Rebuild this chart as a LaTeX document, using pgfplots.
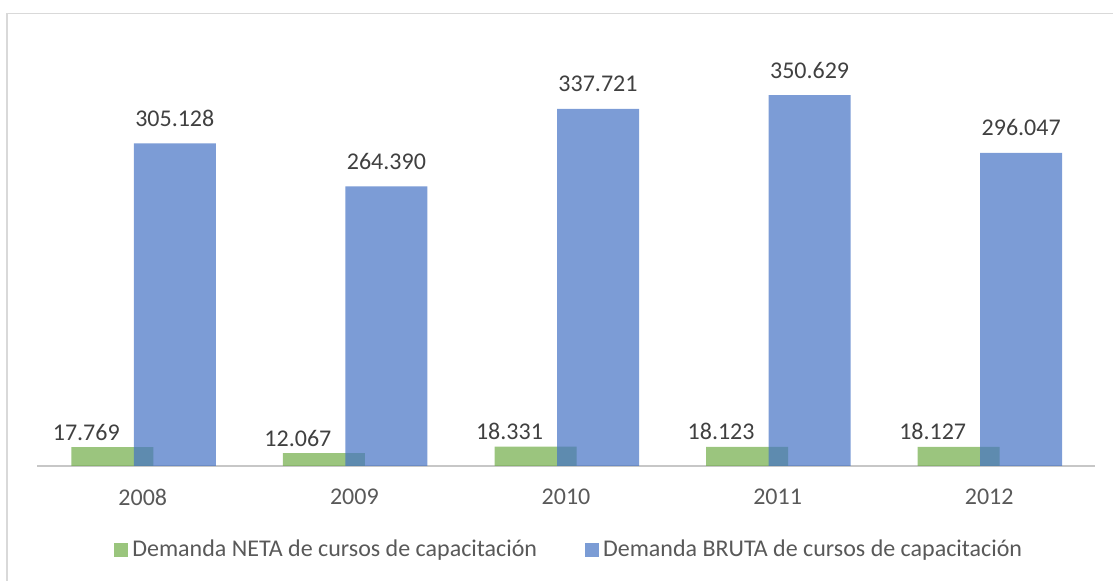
\documentclass[border=0pt]{standalone}
\usepackage{fontspec}
\setmainfont{Carlito}
\usepackage{pgfplots}
\pgfplotsset{compat=1.18}
\definecolor{verde}{HTML}{70AD47}
\definecolor{azul}{HTML}{4472C4}
\definecolor{txt}{HTML}{404040}
\definecolor{eje}{HTML}{595959}
\definecolor{marco}{HTML}{D9D9D9}
\begin{document}
\begin{tikzpicture}[x=1pt,y=1pt]
\useasboundingbox (0,0) rectangle (556.5,290.5);
\draw[marco, line width=0.8pt] (3.5,0) -- (3.5,283.75) -- (556.5,283.75);
\begin{axis}[
  at={(18.5pt,57.5pt)}, anchor=south west,
  scale only axis, width=529pt, height=211.5pt,
  ybar, bar width=41pt,
  xmin=-0.5, xmax=4.5, ymin=0, ymax=400,
  axis y line=none, axis x line*=bottom,
  axis line style={draw=black!22, line width=1.1pt, -},
  xtick={0,...,4}, xticklabels={2008,2009,2010,2011,2012},
  major tick length=0pt,
  xticklabel style={font=\fontsize{12}{14}\selectfont, text=eje, anchor=center, yshift=-15.5pt},
  nodes near coords={\pgfmathprintnumber[fixed, fixed zerofill, precision=3, assume math mode=true]{\pgfplotspointmeta}},
  every node near coord/.append style={font=\fontsize{12}{14}\selectfont, text=txt, text opacity=1, anchor=center},
  legend style={at={(0.504,-0.1986)}, anchor=center, legend columns=2, draw=none,
    font=\fontsize{12}{14}\selectfont, text=eje,
    /tikz/every even column/.append style={column sep=22pt}},
  legend image code/.code={\fill[#1] (0pt,-3.5pt) rectangle (7pt,3.5pt);},
]
\addplot[fill=verde, fill opacity=0.7, draw=none, bar shift=-15.25pt,
  every node near coord/.append style={xshift=-13pt, yshift=7.5pt}]
  coordinates {(0,17.769) (1,12.067) (2,18.331) (3,18.123) (4,18.127)};
\addplot[fill=azul, fill opacity=0.7, draw=none, bar shift=16pt,
  every node near coord/.append style={yshift=12.5pt}]
  coordinates {(0,305.128) (1,264.390) (2,337.721) (3,350.629) (4,296.047)};
\legend{Demanda NETA de cursos de capacitación, Demanda BRUTA de cursos de capacitación}
\end{axis}
\end{tikzpicture}
\end{document}
